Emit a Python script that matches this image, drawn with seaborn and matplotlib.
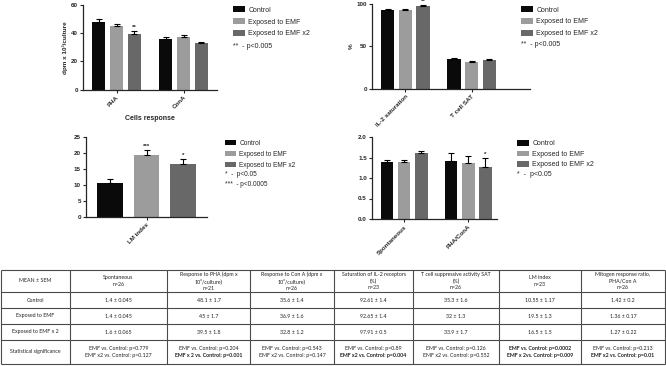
import matplotlib
matplotlib.use('Agg')
import matplotlib.pyplot as plt
import seaborn as sns
import pandas as pd

groups = ['Control', 'Exposed to EMF', 'Exposed to EMF x2']
measures = ['Spontaneous', 'PHA', 'ConA', 'IL-2 saturation', 'T cell SAT', 'LM index', 'PHA/ConA']
mean_control = [1.4, 48.1, 35.6, 92.61, 35.3, 10.55, 1.42]
mean_emf = [1.4, 45, 36.9, 92.65, 32, 19.5, 1.36]
mean_emf2 = [1.6, 39.5, 32.8, 97.91, 33.9, 16.5, 1.27]
sem_control = [0.045, 1.7, 1.4, 1.4, 1.6, 1.17, 0.2]
sem_emf = [0.045, 1.7, 1.6, 1.4, 1.3, 1.3, 0.17]
sem_emf2 = [0.065, 1.8, 1.2, 0.5, 1.7, 1.5, 0.22]

# significance marks drawn on the bars
star_measure = ['PHA', 'IL-2 saturation', 'LM index', 'LM index', 'PHA/ConA']
star_group = ['Exposed to EMF x2', 'Exposed to EMF x2', 'Exposed to EMF', 'Exposed to EMF x2', 'Exposed to EMF x2']
star_text = ['**', '**', '***', '*', '*']

# table text
table_headers = ['MEAN \u00b1 SEM', 'Spontaneous\nn=26', 'Response to PHA (dpm x\n10\u00b3/culture)\nn=21',
                 'Response to Con A (dpm x\n10\u00b3/culture)\nn=26', 'Saturation of IL-2 receptors\n(%)\nn=23',
                 'T cell suppressive activity SAT\n(%)\nn=26', 'LM index\nn=23',
                 'Mitogen response ratio,\nPHA/Con A\nn=26']
row_labels = ['Control', 'Exposed to EMF', 'Exposed to EMF x 2', 'Statistical significance']
sig_line1 = ['EMF vs. Control: p=0.779', 'EMF vs. Control: p=0.204', 'EMF vs. Control: p=0.543',
             'EMF vs. Control: p=0.89', 'EMF vs. Control: p=0.126', 'EMF vs. Control: p=0.0002',
             'EMF vs. Control: p=0.213']
sig_line2 = ['EMF x2 vs. Control: p=0.127', 'EMF x 2 vs. Control: p=0.001', 'EMF x2 vs. Control: p=0.147',
             'EMF x2 vs. Control: p=0.004', 'EMF x2 vs. Control: p=0.552', 'EMF x 2vs. Control: p=0.009',
             'EMF x2 vs. Control: p=0.01']
sig_bold1 = [False, False, False, False, False, True, False]
sig_bold2 = [False, True, False, True, False, True, True]

# ---- build long data frame ----
rows = []
for g, means, sems in zip(groups, [mean_control, mean_emf, mean_emf2], [sem_control, sem_emf, sem_emf2]):
    for m, v, s in zip(measures, means, sems):
        rows.append({'measure': m, 'group': g, 'mean': v, 'sem': s})
df = pd.DataFrame(rows)

palette = {'Control': '#0a0a0a', 'Exposed to EMF': '#9c9c9c', 'Exposed to EMF x2': '#686868'}

W, H = 666, 366
sns.set_style('ticks')
plt.rcParams['font.family'] = ['Liberation Sans', 'DejaVu Sans']
fig = plt.figure(figsize=(W / 100, H / 100), dpi=100)


def px_rect(x0, y0, x1, y1):
    return [x0 / W, 1 - y1 / H, (x1 - x0) / W, (y1 - y0) / H]


panels = [
    dict(measures=['PHA', 'ConA'], rect=(83, 4.7, 217, 89.7), ylim=(0, 60), yticks=[0, 20, 40, 60],
         xlim=(-0.5, 1.5), width=0.8, gap=0.25, ylabel='dpm x 10\u00b3/culture', fmt='{:.0f}',
         leg=(233, 6.5), fs=5.0, ls=0.68, notes=['**  - p<0.005'], note_y=[46]),
    dict(measures=['IL-2 saturation', 'T cell SAT'], rect=(372, 4, 530, 89), ylim=(0, 100),
         yticks=[0, 50, 100], xlim=(-0.5, 1.876), width=0.8, gap=0.25, ylabel='%', fmt='{:.0f}',
         leg=(521, 6.5), fs=5.0, ls=0.66, notes=['**  - p<0.005'], note_y=[45]),
    dict(measures=['LM index'], rect=(86, 137, 207, 217), ylim=(0, 25), yticks=[0, 5, 10, 15, 20, 25],
         xlim=(-0.5, 0.5), width=0.9, gap=0.3, ylabel='', fmt='{:.0f}',
         leg=(225, 140), fs=4.7, ls=0.6, notes=['*  -  p<0.05', '***  - p<0.0005'], note_y=[174, 185]),
    dict(measures=['Spontaneous', 'PHA/ConA'], rect=(372, 137, 497, 219), ylim=(0, 2.0),
         yticks=[0, 0.5, 1.0, 1.5, 2.0], xlim=(-0.5, 1.45), width=0.8, gap=0.25, ylabel='', fmt='{:.1f}',
         leg=(517, 140), fs=5.0, ls=0.5, notes=['*  -  p<0.05'], note_y=[175]),
]

for p in panels:
    ax = fig.add_axes(px_rect(*p['rect']))
    sub = df[df['measure'].isin(p['measures'])]
    sns.barplot(data=sub, x='measure', y='mean', hue='group', order=p['measures'], hue_order=groups,
                palette=palette, errorbar=None, width=p['width'], gap=p['gap'], linewidth=0,
                saturation=1, legend=True, ax=ax)

    # upward error bars (mean + SEM)
    for cont, g in zip(ax.containers, groups):
        gsub = sub[sub['group'] == g].set_index('measure').loc[p['measures']]
        xs = [b.get_x() + b.get_width() / 2 for b in cont]
        ax.errorbar(xs, gsub['mean'], yerr=[[0] * len(xs), gsub['sem']], fmt='none', ecolor='black',
                    elinewidth=0.8, capsize=2.3, capthick=0.8)
        for x, (m, r) in zip(xs, gsub.iterrows()):
            for sm, sg, st in zip(star_measure, star_group, star_text):
                if sm == m and sg == g:
                    ax.annotate(st, (x, r['mean'] + r['sem']), xytext=(0, 0.8), textcoords='offset points',
                                ha='center', va='bottom', fontsize=4.5, fontweight='bold',
                                annotation_clip=False)

    ax.set_xlim(*p['xlim'])
    ax.set_ylim(*p['ylim'])
    ax.set_yticks(p['yticks'])
    ax.set_yticklabels([p['fmt'].format(t) for t in p['yticks']], fontsize=4.5, fontweight='bold')
    ax.set_xticks(range(len(p['measures'])))
    ax.set_xticklabels(p['measures'], rotation=45, ha='right', rotation_mode='anchor',
                       fontsize=4.5, fontweight='bold')
    ax.set_xlabel('')
    ax.set_ylabel(p['ylabel'], fontsize=4.6, fontweight='bold', labelpad=2)
    sns.despine(ax=ax)
    for sp in ['left', 'bottom']:
        ax.spines[sp].set_linewidth(0.9)
    ax.tick_params(length=2.2, width=0.8, pad=1.5)

    h, l = ax.get_legend_handles_labels()
    ax.get_legend().remove()
    ax.legend(h, l, loc='upper left', bbox_to_anchor=(p['leg'][0] / W, 1 - p['leg'][1] / H),
              bbox_transform=fig.transFigure, frameon=False, borderpad=0, borderaxespad=0,
              handlelength=1.7, handleheight=0.85, handletextpad=0.5, labelspacing=p['ls'],
              fontsize=p['fs'])
    for note, ny in zip(p['notes'], p['note_y']):
        fig.text(p['leg'][0] / W, 1 - ny / H, note, fontsize=p['fs'], va='center', ha='left')

fig.text(150 / W, 1 - 119 / H, 'Cells response', fontsize=5, fontweight='bold', ha='center', va='center')

# ---- table ----
tab = fig.add_axes([0, 0, 1, 1])
tab.set_xlim(0, W)
tab.set_ylim(H, 0)
tab.axis('off')
col_edges = [1, 70, 167, 250, 334, 413, 499, 581, 665]
row_edges = [270, 292, 308, 324, 340, 364]
tab.hlines(row_edges, col_edges[0], col_edges[-1], color='#4a4a4a', lw=0.8)
tab.vlines(col_edges, row_edges[0], row_edges[-1], color='#4a4a4a', lw=0.8)
tfont = dict(family=['Lato', 'DejaVu Sans'], fontsize=3.8, color='#222222', ha='center', va='center')
cx = [(a + b) / 2 for a, b in zip(col_edges[:-1], col_edges[1:])]
cy = [(a + b) / 2 for a, b in zip(row_edges[:-1], row_edges[1:])]
for x, txt in zip(cx, table_headers):
    tab.text(x, cy[0], txt, linespacing=1.35, **tfont)
for y, lab in zip(cy[1:], row_labels):
    tab.text(cx[0], y, lab, **tfont)
value_rows = [[mean_control, sem_control], [mean_emf, sem_emf], [mean_emf2, sem_emf2]]
for y, (means, sems) in zip(cy[1:4], value_rows):
    for x, m, s in zip(cx[1:], means, sems):
        tab.text(x, y, f'{m} \u00b1 {s}', **tfont)
for x, a, b, ba, bb in zip(cx[1:], sig_line1, sig_line2, sig_bold1, sig_bold2):
    tab.text(x, cy[4] - 3.6, a, fontweight='bold' if ba else 'normal', **tfont)
    tab.text(x, cy[4] + 3.6, b, fontweight='bold' if bb else 'normal', **tfont)

fig.savefig('out.png', dpi=100)
